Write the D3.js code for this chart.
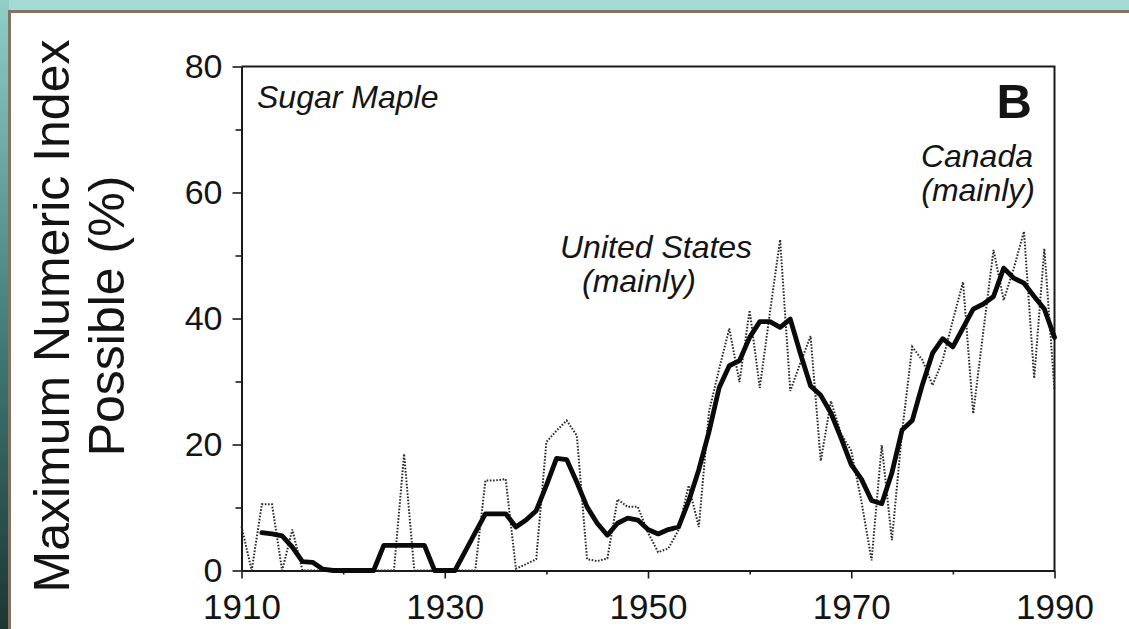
<!DOCTYPE html>
<html>
<head>
<meta charset="utf-8">
<script src="https://cdn.jsdelivr.net/npm/d3@7"></script>
<style>
  html, body { margin: 0; padding: 0; background: #9fd6d0; }
  svg { display: block; }
  text { font-family: "Liberation Sans", Arial, Helvetica, sans-serif; fill: #141414; }
</style>
</head>
<body>
<svg id="chart"></svg>
<script>
// annual values (thin dotted line)
const years = [1910,1911,1912,1913,1914,1915,1916,1917,1918,1919,
  1920,1921,1922,1923,1924,1925,1926,1927,1928,1929,
  1930,1931,1932,1933,1934,1935,1936,1937,1938,1939,
  1940,1941,1942,1943,1944,1945,1946,1947,1948,1949,
  1950,1951,1952,1953,1954,1955,1956,1957,1958,1959,
  1960,1961,1962,1963,1964,1965,1966,1967,1968,1969,
  1970,1971,1972,1973,1974,1975,1976,1977,1978,1979,
  1980,1981,1982,1983,1984,1985,1986,1987,1988,1989,1990];
const annual = [7,0,10.5,10.5,0,6.5,0,0,0,0,
  0,0,0,0,0,0,18.5,0,0,0,
  0,0,0,0,14.3,14.3,14.5,0.3,1,1.8,
  20.4,22.2,23.8,21.4,1.8,1.5,1.9,11.3,10.1,10.1,
  6,2.9,3.5,6.4,13.5,6.9,25.2,32,38.4,29.9,
  41.3,29,41,52.5,28.5,33,37.2,17.4,26.9,21.7,
  19,11,1.6,19.9,4.8,22,35.5,33.4,29.4,33.4,
  39.7,45.8,24.9,38,50.9,42.9,48,53.8,30.5,51.1,28.6];

// smoothed values (thick line), 1912-1990
const smoothYears = years.slice(2);
const smoothed = [6.0,5.8,5.5,3.7,1.4,1.3,0.2,0,
  0,0,0,0,4,4,4,4,4,0,
  0,0,3,6,9,9,9,6.9,8,9.5,
  13.5,17.8,17.6,14,10.1,7.5,5.6,7.5,8.3,8.0,
  6.5,5.8,6.5,6.9,11,16,22,29,32.5,33.3,
  37,39.5,39.5,38.6,39.9,34.4,29.3,27.8,25,21,
  16.8,14.5,11.1,10.6,15.5,22.3,23.8,29.5,34.5,36.8,
  35.5,38.5,41.5,42.3,43.5,48,46.4,45.6,43.5,41.5,37];

const xMajor = [1910,1930,1950,1970,1990];
const xMinor = [1920,1940,1960,1980];
const yMajor = [0,20,40,60,80];
const yMinor = [10,30,50,70];

const width = 1129, height = 629;
const svg = d3.select("#chart").attr("width", width).attr("height", height);

// photo-ish surround and brown frame
const grad = svg.append("defs").append("linearGradient")
    .attr("id", "side").attr("x1", 0).attr("y1", 0).attr("x2", 0).attr("y2", 1);
grad.append("stop").attr("offset", "0%").attr("stop-color", "#8fcfc8");
grad.append("stop").attr("offset", "55%").attr("stop-color", "#3f7a74");
grad.append("stop").attr("offset", "100%").attr("stop-color", "#1d3532");
svg.append("rect").attr("width", width).attr("height", 12).attr("fill", "#a7dad4");
svg.append("rect").attr("width", 9).attr("height", height).attr("fill", "url(#side)");
svg.append("rect").attr("x", 8).attr("y", 10).attr("width", width).attr("height", height)
    .attr("fill", "#857262");
svg.append("rect").attr("x", 11).attr("y", 13).attr("width", width).attr("height", height)
    .attr("fill", "#ffffff");

const x = d3.scaleLinear().domain([1910, 1990]).range([241.5, 1054.5]);
const y = d3.scaleLinear().domain([0, 80]).range([570.5, 66.5]);

// frame (top and right)
svg.append("path")
    .attr("d", `M${x(1910)},${y(80)}H${x(1990)}V${y(0)}`)
    .attr("fill", "none").attr("stroke", "#1a1a1a").attr("stroke-width", 2);

// axes
const yAxis = svg.append("g").attr("transform", `translate(${x(1910)},0)`)
    .call(d3.axisLeft(y).tickValues(yMajor).tickSize(9).tickPadding(10).tickSizeOuter(0));
svg.append("g").attr("transform", `translate(${x(1910)},0)`)
    .call(d3.axisLeft(y).tickValues(yMinor).tickSize(6).tickFormat("").tickSizeOuter(0));
const xAxis = svg.append("g").attr("transform", `translate(0,${y(0)})`)
    .call(d3.axisBottom(x).tickValues(xMajor).tickFormat(d3.format("d")).tickSize(8).tickPadding(16).tickSizeOuter(0));
svg.append("g").attr("transform", `translate(0,${y(0)})`)
    .call(d3.axisBottom(x).tickValues(xMinor).tickFormat("").tickSize(4).tickSizeOuter(0));

svg.selectAll(".domain").attr("stroke", "#1a1a1a").attr("stroke-width", 2);
svg.selectAll(".tick line").attr("stroke", "#1a1a1a").attr("stroke-width", 1.6);
yAxis.selectAll("text").style("font-size", "34px").attr("fill", "#141414");
xAxis.selectAll("text").style("font-size", "35px").attr("fill", "#141414");

// thin dotted annual line
const annualLine = d3.line().x((d, i) => x(years[i])).y(d => y(d));
svg.append("path")
    .datum(annual)
    .attr("d", annualLine)
    .attr("fill", "none")
    .attr("stroke", "#2a2a2a")
    .attr("stroke-width", 2)
    .attr("stroke-dasharray", "1.6 1.6");

// thick smoothed line
const smoothLine = d3.line().x((d, i) => x(smoothYears[i])).y(d => y(d));
svg.append("path")
    .datum(smoothed)
    .attr("d", smoothLine)
    .attr("fill", "none")
    .attr("stroke", "#0a0a0a")
    .attr("stroke-width", 4.8)
    .attr("stroke-linejoin", "round")
    .attr("stroke-linecap", "round");

// y axis title
const titleLines = ["Maximum Numeric Index", "Possible (%)"];
svg.selectAll(".ytitle")
    .data(titleLines)
    .enter().append("text")
    .attr("class", "ytitle")
    .attr("transform", (d, i) => `translate(${69 + i * 55},316) rotate(-90)`)
    .attr("text-anchor", "middle")
    .style("font-size", "50px")
    .text(d => d);

// annotations
const notes = [
  {t: "Sugar Maple", x: 257, y: 108, a: "start"},
  {t: "United States", x: 560, y: 258, a: "start"},
  {t: "(mainly)", x: 582, y: 292, a: "start"},
  {t: "Canada", x: 1033, y: 167, a: "end"},
  {t: "(mainly)", x: 1035, y: 201, a: "end"}
];
svg.selectAll(".note")
    .data(notes)
    .enter().append("text")
    .attr("class", "note")
    .attr("x", d => d.x)
    .attr("y", d => d.y)
    .attr("text-anchor", d => d.a)
    .style("font-size", "32px")
    .style("font-style", "italic")
    .text(d => d.t);

svg.append("text")
    .attr("x", 1032).attr("y", 118)
    .attr("text-anchor", "end")
    .style("font-size", "49px")
    .style("font-weight", "bold")
    .text("B");
</script>
</body>
</html>
